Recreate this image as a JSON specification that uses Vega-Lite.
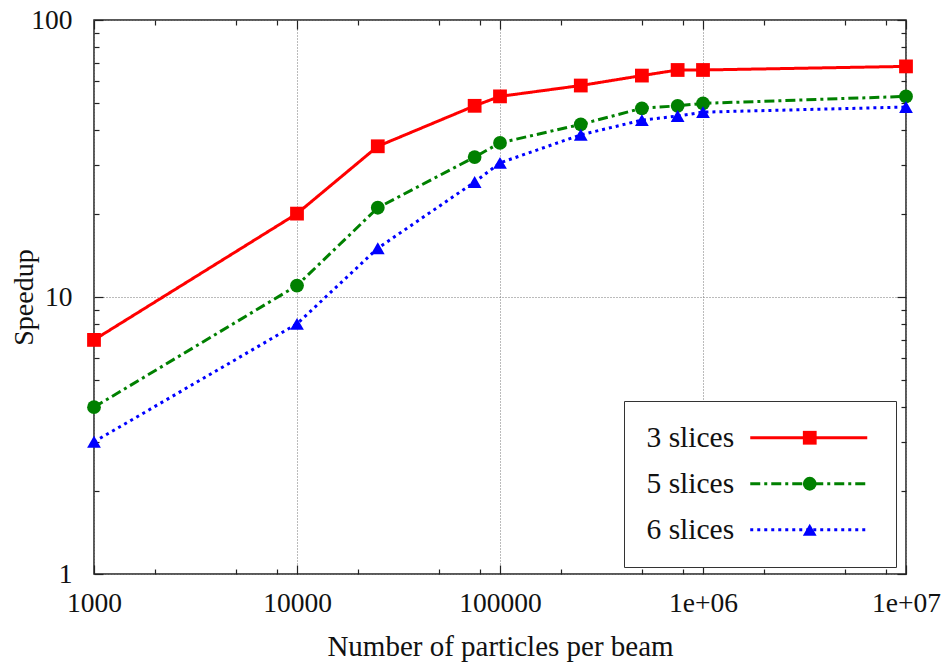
{
  "$schema": "https://vega.github.io/schema/vega-lite/v6.json",
  "width": 812,
  "height": 554,
  "autosize": {"type": "none"},
  "padding": {"left": 94, "top": 20, "right": 40, "bottom": 89},
  "background": "white",
  "config": {
    "view": {"stroke": "#222", "strokeWidth": 1.5},
    "font": "Liberation Serif",
    "axis": {
      "labelFont": "Liberation Serif",
      "titleFont": "Liberation Serif",
      "labelFontSize": 27.5,
      "titleFontSize": 29,
      "labelColor": "#111",
      "titleColor": "#111",
      "titleFontWeight": "normal",
      "domain": false,
      "tickColor": "#222",
      "tickWidth": 1.2,
      "gridColor": "#777",
      "gridDash": [1, 2],
      "gridWidth": 1
    },
    "legend": {
      "labelFont": "Liberation Serif",
      "labelFontSize": 29.5,
      "labelColor": "#111"
    }
  },
  "data": {
    "values": [
      {"particles": 1000, "speedup": 7.0, "series": "3 slices"},
      {"particles": 10000, "speedup": 20, "series": "3 slices"},
      {"particles": 25000, "speedup": 35, "series": "3 slices"},
      {"particles": 75000, "speedup": 49, "series": "3 slices"},
      {"particles": 100000, "speedup": 53, "series": "3 slices"},
      {"particles": 250000, "speedup": 58, "series": "3 slices"},
      {"particles": 500000, "speedup": 63, "series": "3 slices"},
      {"particles": 750000, "speedup": 66, "series": "3 slices"},
      {"particles": 1000000, "speedup": 66, "series": "3 slices"},
      {"particles": 10000000, "speedup": 68, "series": "3 slices"},
      {"particles": 1000, "speedup": 4.0, "series": "5 slices"},
      {"particles": 10000, "speedup": 11, "series": "5 slices"},
      {"particles": 25000, "speedup": 21, "series": "5 slices"},
      {"particles": 75000, "speedup": 32, "series": "5 slices"},
      {"particles": 100000, "speedup": 36, "series": "5 slices"},
      {"particles": 250000, "speedup": 42, "series": "5 slices"},
      {"particles": 500000, "speedup": 48, "series": "5 slices"},
      {"particles": 750000, "speedup": 49, "series": "5 slices"},
      {"particles": 1000000, "speedup": 50, "series": "5 slices"},
      {"particles": 10000000, "speedup": 53, "series": "5 slices"},
      {"particles": 1000, "speedup": 3.0, "series": "6 slices"},
      {"particles": 10000, "speedup": 8.0, "series": "6 slices"},
      {"particles": 25000, "speedup": 15, "series": "6 slices"},
      {"particles": 75000, "speedup": 26, "series": "6 slices"},
      {"particles": 100000, "speedup": 30.5, "series": "6 slices"},
      {"particles": 250000, "speedup": 38.5, "series": "6 slices"},
      {"particles": 500000, "speedup": 43.5, "series": "6 slices"},
      {"particles": 750000, "speedup": 45, "series": "6 slices"},
      {"particles": 1000000, "speedup": 46.5, "series": "6 slices"},
      {"particles": 10000000, "speedup": 48.5, "series": "6 slices"}
    ]
  },
  "layer": [
    {
      "mark": {"type": "line", "strokeWidth": 3, "clip": true},
      "encoding": {
        "x": {
          "field": "particles", "type": "quantitative",
          "scale": {"type": "log", "domain": [1000, 10000000], "nice": false},
          "axis": {
            "orient": "bottom",
            "title": "Number of particles per beam",
            "titlePadding": 12,
            "values": [1000, 2000, 5000, 8000, 10000, 20000, 50000, 80000, 100000, 200000, 500000, 800000, 1000000, 2000000, 5000000, 8000000, 10000000],
            "labelExpr": "datum.value == 1000000 ? '1e+06' : datum.value == 10000000 ? '1e+07' : (datum.value == 1000 || datum.value == 10000 || datum.value == 100000) ? format(datum.value, 'd') : ''",
            "labelPadding": 24,
            "labelFlush": false,
            "labelOverlap": false,
            "tickSize": {"condition": {"test": "indexof([1000,10000,100000,1000000,10000000], datum.value) >= 0", "value": -9}, "value": -5},
            "gridOpacity": {"condition": {"test": "indexof([1000,10000,100000,1000000,10000000], datum.value) >= 0", "value": 1}, "value": 0}
          }
        },
        "y": {
          "field": "speedup", "type": "quantitative",
          "scale": {"type": "log", "domain": [1, 100], "nice": false},
          "axis": {
            "orient": "left",
            "title": "Speedup",
            "titlePadding": -8,
            "titleFontSize": 28,
            "values": [1, 2, 3, 4, 5, 6, 7, 8, 9, 10, 20, 30, 40, 50, 60, 70, 80, 90, 100],
            "labelExpr": "(datum.value == 1 || datum.value == 10 || datum.value == 100) ? format(datum.value, 'd') : ''",
            "labelPadding": 31,
            "labelFlush": false,
            "labelOverlap": false,
            "tickSize": {"condition": {"test": "indexof([1,10,100], datum.value) >= 0", "value": -9}, "value": -5},
            "gridOpacity": {"condition": {"test": "indexof([1,10,100], datum.value) >= 0", "value": 1}, "value": 0}
          }
        },
        "stroke": {
          "field": "series", "type": "nominal",
          "scale": {"domain": ["3 slices", "5 slices", "6 slices"], "range": ["#ff0000", "#008000", "#0000ff"]},
          "legend": {
            "title": null,
            "orient": "none",
            "legendX": 530,
            "legendY": 381,
            "padding": 22,
            "rowPadding": 15,
            "strokeColor": "#333",
            "fillColor": "white",
            "symbolType": "M-4.5,0H4.5",
            "symbolSize": 676,
            "symbolStrokeWidth": 3,
            "symbolOffset": 148,
            "labelAlign": "left",
            "labelOffset": -177
          }
        },
        "strokeDash": {
          "field": "series", "type": "nominal",
          "scale": {"domain": ["3 slices", "5 slices", "6 slices"], "range": [[1, 0], [10, 4, 3, 4], [3, 4]]},
          "legend": {
            "title": null,
            "orient": "none",
            "legendX": 530,
            "legendY": 381
          }
        }
      }
    },
    {
      "mark": {"type": "point", "filled": true, "opacity": 1, "size": 190, "clip": false},
      "encoding": {
        "x": {
          "field": "particles", "type": "quantitative",
          "axis": {
            "orient": "top",
            "title": null,
            "labels": false,
            "grid": false,
            "values": [1000, 2000, 5000, 8000, 10000, 20000, 50000, 80000, 100000, 200000, 500000, 800000, 1000000, 2000000, 5000000, 8000000, 10000000],
            "tickSize": {"condition": {"test": "indexof([1000,10000,100000,1000000,10000000], datum.value) >= 0", "value": -9}, "value": -5}
          }
        },
        "y": {
          "field": "speedup", "type": "quantitative",
          "axis": {
            "orient": "right",
            "title": null,
            "labels": false,
            "grid": false,
            "values": [1, 2, 3, 4, 5, 6, 7, 8, 9, 10, 20, 30, 40, 50, 60, 70, 80, 90, 100],
            "tickSize": {"condition": {"test": "indexof([1,10,100], datum.value) >= 0", "value": -9}, "value": -5}
          }
        },
        "fill": {
          "field": "series", "type": "nominal",
          "scale": {"range": ["#ff0000", "#008000", "#0000ff"]},
          "legend": {
            "title": null,
            "orient": "none",
            "legendX": 701,
            "legendY": 403,
            "padding": 0,
            "rowPadding": 15,
            "symbolSize": 190,
            "symbolStrokeWidth": 0,
            "labelOpacity": 0
          }
        },
        "shape": {
          "field": "series", "type": "nominal",
          "scale": {"range": ["square", "circle", "triangle-up"]},
          "legend": {
            "title": null,
            "orient": "none",
            "legendX": 701,
            "legendY": 403
          }
        }
      }
    }
  ],
  "resolve": {"axis": {"x": "independent", "y": "independent"}}
}
